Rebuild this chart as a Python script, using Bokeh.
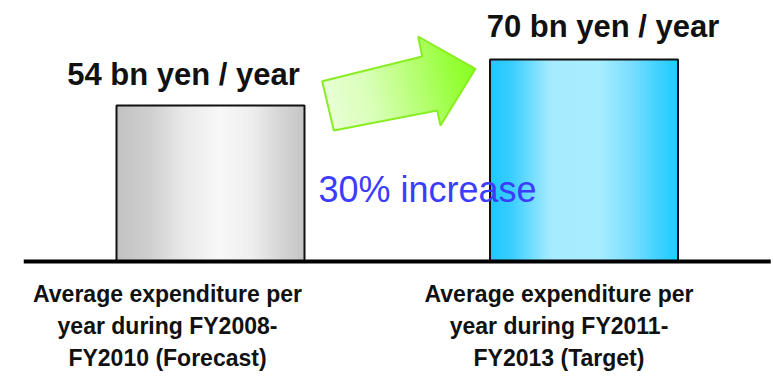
import numpy as np
from bokeh.plotting import figure
from bokeh.models import Range1d
from bokeh.core.properties import value
from bokeh.embed import file_html
from bokeh.resources import INLINE

# ---------------- data ----------------
category_lines = [
    ["Average expenditure per", "year during FY2008-", "FY2010 (Forecast)"],
    ["Average expenditure per", "year during FY2011-", "FY2013 (Target)"],
]
values = [54, 70]
value_labels = ["54 bn yen / year", "70 bn yen / year"]
increase_text = "30% increase"

# ---------------- layout ----------------
W, H = 773, 391
PX_PER_CAT = 373.5
X0_PX = 210.0
PX_PER_UNIT = 2.887
BASE_PX = 261.0
BAR_W = 188.0 / PX_PER_CAT

x_start = -X0_PX / PX_PER_CAT
x_end = (W - X0_PX) / PX_PER_CAT
y_end = BASE_PX / PX_PER_UNIT
y_start = -(H - BASE_PX) / PX_PER_UNIT


def px_to_data(px, py):
    return (np.asarray(px) - X0_PX) / PX_PER_CAT, (BASE_PX - np.asarray(py)) / PX_PER_UNIT


def hex_to_rgb(h):
    h = h.lstrip("#")
    return np.array([int(h[i:i + 2], 16) for i in (0, 2, 4)], dtype=float)


def interp_color(stops, f):
    fs = [s[0] for s in stops]
    cs = [hex_to_rgb(s[1]) for s in stops]
    for i in range(len(fs) - 1):
        if fs[i] <= f <= fs[i + 1]:
            t = (f - fs[i]) / (fs[i + 1] - fs[i])
            c = cs[i] * (1 - t) + cs[i + 1] * t
            return "#%02x%02x%02x" % tuple(int(round(v)) for v in c)
    c = cs[-1] if f > fs[-1] else cs[0]
    return "#%02x%02x%02x" % tuple(int(v) for v in c)


grey_stops = [(0.0, "#c2c2c2"), (0.18, "#cfcfcf"), (0.35, "#e8e8e8"), (0.55, "#f8f8f8"),
              (0.72, "#eeeeee"), (0.87, "#d6d6d6"), (1.0, "#c4c4c4")]
cyan_stops = [(0.0, "#1cc8ff"), (0.12, "#3ccfff"), (0.32, "#a6ebff"), (0.58, "#a8ecff"),
              (0.76, "#78ddff"), (0.9, "#3ed2ff"), (1.0, "#1ecbff")]
bar_stops = [grey_stops, cyan_stops]
arrow_stops = [(0.0, "#e8ffd4"), (0.3, "#d8ffb6"), (0.6, "#b6ff74"), (0.85, "#98ff3a"), (1.0, "#88ff22")]

p = figure(width=W, height=H, output_backend="svg", toolbar_location=None,
           x_range=Range1d(x_start, x_end), y_range=Range1d(y_start, y_end),
           x_axis_location=None, y_axis_location=None, min_border=0,
           background_fill_color="white", border_fill_color="white")
p.outline_line_color = None
p.grid.visible = False

# ---------------- gradient bars ----------------
N = 80
for i, v in enumerate(values):
    left0 = i - BAR_W / 2
    step = BAR_W / N
    lefts = [left0 + k * step for k in range(N)]
    rights = [min(left0 + (k + 1.6) * step, i + BAR_W / 2) for k in range(N)]
    cols = [interp_color(bar_stops[i], (k + 0.5) / N) for k in range(N)]
    p.quad(left=lefts, right=rights, bottom=[0] * N, top=[v] * N,
           fill_color=cols, line_color=None)
    p.quad(left=[left0], right=[i + BAR_W / 2], bottom=[0], top=[v],
           fill_color=None, line_color="#111111", line_width=2)

# ---------------- arrow ----------------
arrow_px = np.array([
    (321.7, 80.7), (421.7, 56.0), (417.7, 36.0), (475.0, 68.3),
    (440.0, 125.0), (436.7, 110.0), (333.3, 130.0)])
tail = (arrow_px[0] + arrow_px[6]) / 2
tip = arrow_px[3]
d = tip - tail
L = np.linalg.norm(d)
u = d / L


def clip(poly, sign, t0):
    out = []
    n = len(poly)
    for k in range(n):
        a, b = poly[k], poly[(k + 1) % n]
        fa = sign * (np.dot(a - tail, u) - t0)
        fb = sign * (np.dot(b - tail, u) - t0)
        if fa >= 0:
            out.append(a)
        if (fa >= 0) != (fb >= 0):
            t = fa / (fa - fb)
            out.append(a + t * (b - a))
    return out


M = 60
ts = np.dot(arrow_px - tail, u)
tmin, tmax = ts.min(), ts.max()
axs, ays, acols = [], [], []
for k in range(M):
    t0 = tmin + (tmax - tmin) * k / M
    t1 = tmin + (tmax - tmin) * (k + 1.6) / M
    poly = clip(list(arrow_px), 1, t0)
    if poly:
        poly = clip(poly, -1, t1)
    if len(poly) >= 3:
        pts = np.array(poly)
        xs, ys = px_to_data(pts[:, 0], pts[:, 1])
        axs.append(list(xs))
        ays.append(list(ys))
        acols.append(interp_color(arrow_stops, min(1.0, max(0.0, ((t0 + t1) / 2) / L))))
p.patches(xs=axs, ys=ays, fill_color=acols, line_color=None)
oxs, oys = px_to_data(arrow_px[:, 0], arrow_px[:, 1])
p.patch(x=list(oxs), y=list(oys), fill_color=None, fill_alpha=0, line_color="#88ee22", line_width=2)

# ---------------- baseline ----------------
p.line(x=[-0.5, 1.5], y=[0, 0], line_color="#000000", line_width=4)

# ---------------- texts ----------------
value_dx = [-27, 19]
p.text(x=[0, 1], y=values, text=value_labels, x_offset=value_dx, y_offset=[-31, -33],
       text_align="center", text_baseline="alphabetic",
       text_font=value("Liberation Sans"), text_font_style="bold",
       text_font_size="31px", text_color="#111111")

ix, iy = px_to_data(318, 188.5)
p.text(x=[ix], y=[iy], text=[increase_text], text_align="left", text_baseline="alphabetic",
       text_font=value("Liberation Sans"), text_font_size="36px", text_color="#3c3cff")

label_dx = [-43, -25]
for i, lines in enumerate(category_lines):
    for j, line in enumerate(lines):
        p.text(x=[i], y=[0], text=[line], x_offset=label_dx[i], y_offset=32 + 32 * j,
               text_align="center", text_baseline="alphabetic",
               text_font=value("Liberation Sans"),
               text_font_style="bold", text_font_size="23px", text_color="#111111")

open("out.html", "w").write(file_html(p, INLINE))
